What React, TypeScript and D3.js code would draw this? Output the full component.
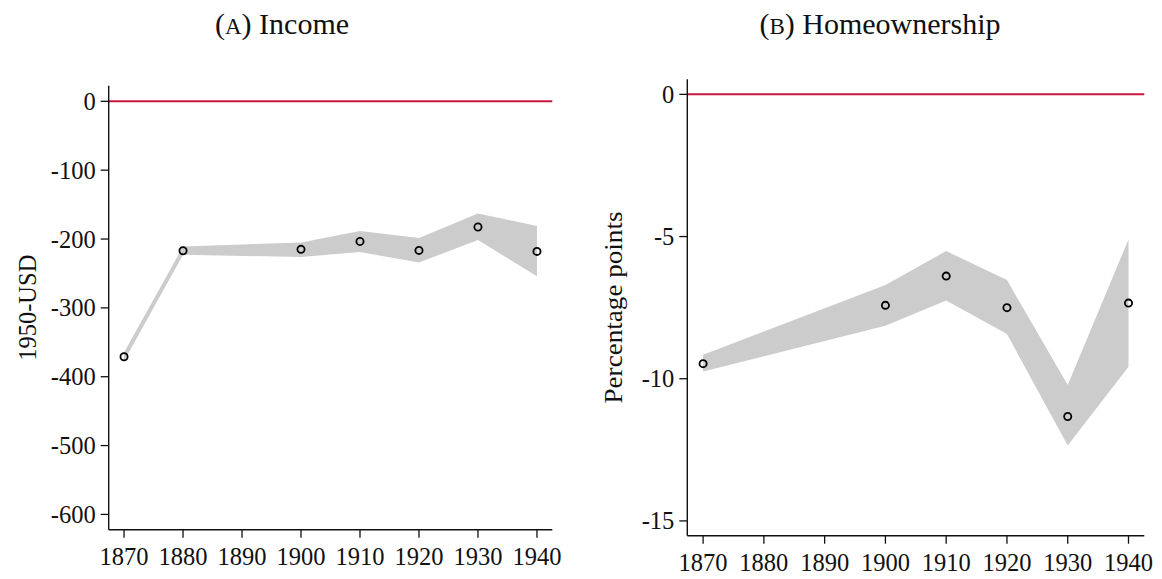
import React from "react";
import * as d3 from "d3";

const incomeYears = [1870, 1880, 1900, 1910, 1920, 1930, 1940];
const incomeEst = [-371, -217, -215, -203.5, -216.5, -182.5, -218];
const incomeLo = [-377, -223, -226, -219, -234, -201.5, -254];
const incomeHi = [-365, -211, -205, -188.5, -198.5, -163, -181];

const homeYears = [1870, 1900, 1910, 1920, 1930, 1940];
const homeEst = [-9.47, -7.42, -6.39, -7.5, -11.33, -7.34];
const homeLo = [-9.75, -8.14, -7.25, -8.43, -12.35, -9.58];
const homeHi = [-9.16, -6.7, -5.51, -6.53, -10.22, -5.1];

const xTicks = [1870, 1880, 1890, 1900, 1910, 1920, 1930, 1940];
const incomeTicks = [0, -100, -200, -300, -400, -500, -600];
const homeTicks = [0, -5, -10, -15];

const FONT = "'Liberation Serif', 'Times New Roman', serif";

type PanelProps = {
  title: string;
  letter: string;
  titleX: number;
  yLabel: string;
  yLabelX: number;
  yLabelLen: number;
  xRange: [number, number];
  yRange: [number, number];
  yDomain: [number, number];
  years: number[];
  est: number[];
  lo: number[];
  hi: number[];
  yTicks: number[];
};

function Panel(p: PanelProps) {
  const x = d3.scaleLinear().domain([1867.4, 1942.6]).range(p.xRange);
  const y = d3.scaleLinear().domain(p.yDomain).range(p.yRange);
  const idx = p.years.map((_, i) => i);
  const area = d3
    .area<number>()
    .x((i) => x(p.years[i]))
    .y0((i) => y(p.lo[i]))
    .y1((i) => y(p.hi[i]));
  const [x0, x1] = p.xRange;
  const [yb, yt] = p.yRange;
  const tick = 8;
  return (
    <g>
      <text x={p.titleX} y={34} textAnchor="middle" fontFamily={FONT} fontSize={30} fill="#111">
        (<tspan fontSize={23}>{p.letter}</tspan>) {p.title}
      </text>
      <path d={area(idx) || ""} fill="#cccccc" stroke="none" />
      <line x1={x0} x2={x1} y1={y(0)} y2={y(0)} stroke="#c8143c" strokeWidth={2} />
      {idx.map((i) => (
        <circle key={i} cx={x(p.years[i])} cy={y(p.est[i])} r={3.6} fill="none" stroke="#000" strokeWidth={1.8} />
      ))}
      <line x1={x0} x2={x0} y1={yt} y2={yb} stroke="#111" strokeWidth={1.4} />
      <line x1={x0} x2={x1} y1={yb} y2={yb} stroke="#111" strokeWidth={1.4} />
      {p.yTicks.map((t) => (
        <g key={"y" + t}>
          <line x1={x0 - tick} x2={x0} y1={y(t)} y2={y(t)} stroke="#111" strokeWidth={1.3} />
          <text x={x0 - tick - 5} y={y(t)} dy="0.35em" textAnchor="end" fontFamily={FONT} fontSize={24.5} fill="#111">
            {t}
          </text>
        </g>
      ))}
      {xTicks.map((t) => (
        <g key={"x" + t}>
          <line x1={x(t)} x2={x(t)} y1={yb} y2={yb + tick} stroke="#111" strokeWidth={1.3} />
          <text x={x(t)} y={yb + 35} textAnchor="middle" fontFamily={FONT} fontSize={24.5} fill="#111">
            {t}
          </text>
        </g>
      ))}
      <text
        transform={`translate(${p.yLabelX},${(yb + yt) / 2}) rotate(-90)`}
        textAnchor="middle"
        dy="0.35em"
        fontFamily={FONT}
        fontSize={25}
        textLength={p.yLabelLen}
        lengthAdjust="spacingAndGlyphs"
        fill="#111"
      >
        {p.yLabel}
      </text>
    </g>
  );
}

export default function App() {
  return (
    <svg width={1162} height={579} style={{ position: "absolute", left: 0, top: 0, background: "#fff" }}>
      <rect width={1162} height={579} fill="#fff" />
      <Panel
        title="Income"
        letter="A"
        titleX={282}
        yLabel="1950-USD"
        yLabelX={27}
        yLabelLen={106}
        xRange={[108.7, 552.3]}
        yRange={[529.7, 85.7]}
        yDomain={[-622.2, 22.7]}
        years={incomeYears}
        est={incomeEst}
        lo={incomeLo}
        hi={incomeHi}
        yTicks={incomeTicks}
      />
      <Panel
        title="Homeownership"
        letter="B"
        titleX={880}
        yLabel="Percentage points"
        yLabelX={613}
        yLabelLen={192}
        xRange={[687.3, 1144.3]}
        yRange={[535.7, 79.3]}
        yDomain={[-15.52, 0.53]}
        years={homeYears}
        est={homeEst}
        lo={homeLo}
        hi={homeHi}
        yTicks={homeTicks}
      />
    </svg>
  );
}
